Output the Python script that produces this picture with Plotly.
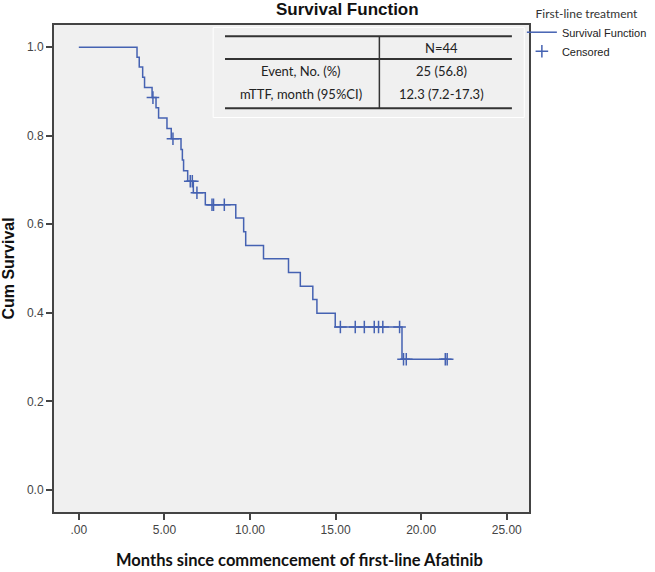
import plotly.graph_objects as go

# ---- data ----
step_times = [0, 3.40, 3.53, 3.73, 3.84, 4.28, 4.51, 4.66, 5.15, 5.40, 5.97, 6.05, 6.12,
              6.36, 6.69, 7.39, 9.17, 9.63, 9.75, 10.79, 12.25, 12.94, 13.67, 13.91, 14.98, 18.88]
step_surv = [1.0, 0.977, 0.955, 0.932, 0.909, 0.886, 0.863, 0.840, 0.816, 0.793, 0.769, 0.745, 0.721,
             0.697, 0.671, 0.644, 0.614, 0.583, 0.552, 0.522, 0.491, 0.460, 0.430, 0.399, 0.368, 0.295]
censor_times = [4.33, 5.50, 6.51, 6.63, 6.90, 7.78, 7.87, 8.50, 15.28, 16.15, 16.68, 17.26,
                17.51, 17.76, 18.74, 18.97, 19.13, 21.41, 21.52]
censor_surv = [0.886, 0.793, 0.697, 0.697, 0.671, 0.644, 0.644, 0.644, 0.368, 0.368, 0.368, 0.368,
               0.368, 0.368, 0.368, 0.295, 0.295, 0.295, 0.295]

x_tickvals = [0, 5, 10, 15, 20, 25]
x_ticktext = [".00", "5.00", "10.00", "15.00", "20.00", "25.00"]
y_tickvals = [0.0, 0.2, 0.4, 0.6, 0.8, 1.0]

table_header = ["", "N=44"]
table_rows = [["Event, No. (%)", "25 (56.8)"],
              ["mTTF, month (95%CI)", "12.3 (7.2-17.3)"]]

LINE = "#4562b2"

line_x = step_times + [censor_times[-1]]
line_y = step_surv + [step_surv[-1]]

fig = go.Figure()
fig.add_trace(go.Scatter(x=line_x, y=line_y, mode="lines", line=dict(shape="hv", color=LINE, width=1.5),
                         name="Survival Function"))
fig.add_trace(go.Scatter(x=censor_times, y=censor_surv, mode="markers", name="Censored",
                         marker=dict(symbol="cross-thin", size=9, color=LINE,
                                     line=dict(color=LINE, width=1.5))))

# table
TX0, TX1, TDIV = 0.36, 0.964, 0.685
ty = [0.977, 0.930, 0.829]
for yv in ty:
    fig.add_shape(type="line", xref="paper", yref="paper", x0=TX0, x1=TX1, y0=yv, y1=yv,
                  line=dict(color="#333333", width=2))
fig.add_shape(type="line", xref="paper", yref="paper", x0=TDIV, x1=TDIV, y0=ty[0], y1=ty[2],
              line=dict(color="#333333", width=1.5))
fig.add_shape(type="rect", xref="paper", yref="paper", x0=0.335, x1=0.99, y0=0.81, y1=0.995,
              line=dict(color="#ffffff", width=1))

tfont = dict(family="Lato, Open Sans, sans-serif", size=13, color="#222222")
col_x = [0.521, 0.816]
fig.add_annotation(x=col_x[1], y=0.953, xref="paper", yref="paper", text=table_header[1],
                   showarrow=False, font=tfont, xanchor="center", yanchor="middle")
for r, yv in zip(table_rows, [0.906, 0.858]):
    for c, xv in zip(r, col_x):
        fig.add_annotation(x=xv, y=yv, xref="paper", yref="paper", text=c, showarrow=False,
                           font=tfont, xanchor="center", yanchor="middle")

# title and x-axis title
fig.add_annotation(x=(347 - 54) / 475, y=(512 - 10) / 487, xref="paper", yref="paper",
                   text="<b>Survival Function</b>", showarrow=False,
                   font=dict(family="Liberation Sans, Arial, sans-serif", size=17, color="#111111"),
                   xanchor="center", yanchor="middle")
fig.add_annotation(x=(299 - 54) / 475, y=(512 - 560) / 487, xref="paper", yref="paper",
                   text="<b>Months since commencement of first-line Afatinib</b>", showarrow=False,
                   font=dict(family="Lato, Open Sans, sans-serif", size=16.5, color="#111111"),
                   xanchor="center", yanchor="middle")

axis_common = dict(showline=True, mirror=True, linecolor="#444444", linewidth=2,
                   ticks="outside", ticklen=6, tickcolor="#444444", tickwidth=1.5,
                   showgrid=False, zeroline=False,
                   tickfont=dict(family="Liberation Sans, Arial, sans-serif", size=12, color="#444444"))

fig.update_layout(
    width=655, height=572,
    margin=dict(l=54, r=126, t=25, b=60, autoexpand=False),
    paper_bgcolor="#ffffff", plot_bgcolor="#f0f0f0",
    xaxis=dict(range=[-1.45, 26.3], tickvals=x_tickvals, ticktext=x_ticktext, **axis_common),
    yaxis=dict(range=[-0.05, 1.05], tickvals=y_tickvals, tickformat=".1f",
               title=dict(text="<b>Cum Survival</b>", standoff=8,
                          font=dict(family="Liberation Sans, Arial, sans-serif", size=16, color="#111111")),
               **axis_common),
    showlegend=True,
    legend=dict(x=0.985, y=1.047, xanchor="left", yanchor="top", bgcolor="rgba(0,0,0,0)",
                title=dict(text="First-line treatment", side="top center",
                           font=dict(family="Lato, Open Sans, sans-serif", size=12, color="#333333")),
                font=dict(family="Liberation Sans, Arial, sans-serif", size=11, color="#222222"),
                itemwidth=30, tracegroupgap=0),
)

fig.write_html("out.html", config={"displayModeBar": False},
               post_script="document.body.style.margin='0';")
